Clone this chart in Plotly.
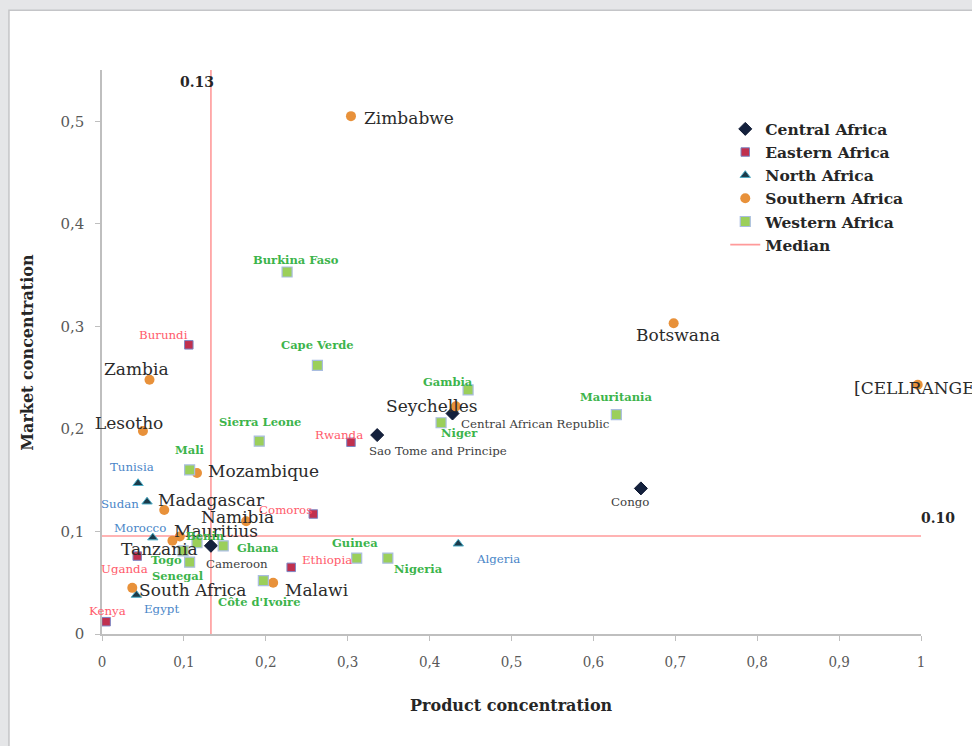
import plotly.graph_objects as go

# ---------------- data ----------------
central_names = ["Sao Tome and Principe", "Central African Republic", "Congo", "Cameroon"]
central_x = [0.336, 0.428, 0.658, 0.133]
central_y = [0.194, 0.215, 0.142, 0.086]

eastern_names = ["Kenya", "Uganda", "Burundi", "Rwanda", "Comoros", "Ethiopia"]
eastern_x = [0.005, 0.043, 0.106, 0.304, 0.258, 0.231]
eastern_y = [0.012, 0.076, 0.282, 0.187, 0.117, 0.065]

north_names = ["Tunisia", "Sudan", "Morocco", "Egypt", "Algeria"]
north_x = [0.044, 0.055, 0.062, 0.042, 0.435]
north_y = [0.147, 0.129, 0.094, 0.038, 0.088]

southern_names = ["Zimbabwe", "Botswana", "[CELLRANGE]", "Zambia", "Lesotho", "Mozambique",
                  "Madagascar", "Namibia", "Seychelles", "Mauritius", "Tanzania",
                  "South Africa", "Malawi"]
southern_x = [0.304, 0.698, 0.996, 0.058, 0.050, 0.116, 0.076, 0.176, 0.432, 0.095, 0.086, 0.037, 0.209]
southern_y = [0.505, 0.303, 0.243, 0.248, 0.198, 0.157, 0.121, 0.110, 0.222, 0.095, 0.091, 0.045, 0.050]

western_names = ["Burkina Faso", "Cape Verde", "Gambia", "Mauritania", "Sierra Leone", "Niger",
                 "Mali", "Guinea", "Nigeria", "Ghana", "Côte d'Ivoire", "Senegal", "Togo", "Benin"]
western_x = [0.226, 0.263, 0.447, 0.628, 0.192, 0.414, 0.107, 0.311, 0.349, 0.148, 0.197, 0.107, 0.099, 0.116]
western_y = [0.353, 0.262, 0.238, 0.214, 0.188, 0.206, 0.160, 0.074, 0.074, 0.086, 0.052, 0.070, 0.081, 0.089]

median_x = 0.133
median_y = 0.0955
median_x_label = "0.13"
median_y_label = "0.10"

x_tick_vals = [0, 0.1, 0.2, 0.3, 0.4, 0.5, 0.6, 0.7, 0.8, 0.9, 1]
x_tick_text = ["0", "0,1", "0,2", "0,3", "0,4", "0,5", "0,6", "0,7", "0,8", "0,9", "1"]
y_tick_vals = [0, 0.1, 0.2, 0.3, 0.4, 0.5]
y_tick_text = ["0", "0,1", "0,2", "0,3", "0,4", "0,5"]

# label offsets (pixels, right / down) relative to each point
label_offsets = {
    "Sao Tome and Principe": (61, 16), "Central African Republic": (83, 10),
    "Congo": (-11, 14), "Cameroon": (26, 18),
    "Kenya": (1, -11), "Uganda": (-13, 13), "Burundi": (-25, -10), "Rwanda": (-12, -7),
    "Comoros": (-28, -4), "Ethiopia": (36, -7),
    "Tunisia": (-6, -16), "Sudan": (-27, 2), "Morocco": (-13, -10), "Egypt": (25, 14),
    "Algeria": (40, 15),
    "Zimbabwe": (58, 2), "Botswana": (4, 12), "[CELLRANGE]": (0, 3), "Zambia": (-13, -11),
    "Lesotho": (-14, -8), "Mozambique": (66, -2), "Madagascar": (47, -10), "Namibia": (-9, -4),
    "Seychelles": (-24, 0), "Mauritius": (36, -6), "Tanzania": (-13, 8),
    "South Africa": (61, 2), "Malawi": (44, 7),
    "Burkina Faso": (9, -12), "Cape Verde": (0, -20), "Gambia": (-20, -8), "Mauritania": (0, -18),
    "Sierra Leone": (1, -19), "Niger": (18, 10), "Mali": (0, -20), "Guinea": (-2, -15),
    "Nigeria": (31, 11), "Ghana": (35, 2), "Côte d'Ivoire": (-4, 21), "Senegal": (-12, 14),
    "Togo": (-17, 9), "Benin": (8, -7),
}

SERIF = "DejaVu Serif, Liberation Serif, serif"

series = [
    dict(name="Central Africa", names=central_names, x=central_x, y=central_y,
         marker=dict(symbol="diamond", size=10, color="#14213d", line=dict(color="#0c1630", width=1)),
         label_font=dict(family=SERIF, size=11.8, color="#404040")),
    dict(name="Eastern Africa", names=eastern_names, x=eastern_x, y=eastern_y,
         marker=dict(symbol="square", size=8.5, color="#c0304e", line=dict(color="#7d86c4", width=1)),
         label_font=dict(family=SERIF, size=11.8, color="#ff5b6b")),
    dict(name="North Africa", names=north_names, x=north_x, y=north_y,
         marker=dict(symbol="triangle-up", size=9, color="#1b3a4a", line=dict(color="#4bacc6", width=1)),
         label_font=dict(family=SERIF, size=11.8, color="#4a86c8")),
    dict(name="Southern Africa", names=southern_names, x=southern_x, y=southern_y,
         marker=dict(symbol="circle", size=10, color="#e8913a", line=dict(color="#e8913a", width=0)),
         label_font=dict(family=SERIF, size=17, color="#2b2b2b")),
    dict(name="Western Africa", names=western_names, x=western_x, y=western_y,
         marker=dict(symbol="square", size=10, color="#9bcf5a", line=dict(color="#a9bde0", width=1.2)),
         label_font=dict(family=SERIF, size=11.5, color="#3cb44b"), bold=True),
]

fig = go.Figure()

# median lines
fig.add_trace(go.Scatter(
    x=[median_x, median_x, None, 0, 1],
    y=[0, 0.55, None, median_y, median_y],
    mode="lines", name="Median",
    line=dict(color="#ff9a9a", width=1.6),
    legendrank=1000, cliponaxis=False, hoverinfo="skip",
))

for i, s in enumerate(series):
    fig.add_trace(go.Scatter(
        x=s["x"], y=s["y"], mode="markers", name=s["name"], text=s["names"],
        marker=s["marker"], legendrank=i + 1, cliponaxis=False,
    ))

annotations = []
for s in series:
    for n, xv, yv in zip(s["names"], s["x"], s["y"]):
        dx, dy = label_offsets[n]
        txt = f"<b>{n}</b>" if s.get("bold") else n
        annotations.append(dict(
            x=xv, y=yv, xref="x", yref="y", text=txt, showarrow=False,
            xshift=dx, yshift=-dy, xanchor="center", yanchor="middle",
            font=s["label_font"],
        ))

# median value labels
annotations.append(dict(x=median_x, y=0.55, xref="x", yref="y", text=f"<b>{median_x_label}</b>",
                        showarrow=False, xshift=-14, yshift=-12, font=dict(family=SERIF, size=14, color="#262626")))
annotations.append(dict(x=1, y=median_y, xref="x", yref="y", text=f"<b>{median_y_label}</b>",
                        showarrow=False, xshift=17, yshift=18, font=dict(family=SERIF, size=14, color="#262626")))

# axis titles
annotations.append(dict(x=0.5, y=-0.126, xref="paper", yref="paper", text="<b>Product concentration</b>",
                        showarrow=False, yanchor="middle",
                        font=dict(family=SERIF, size=16, color="#262626")))
annotations.append(dict(x=-0.092, y=0.5, xref="paper", yref="paper", text="<b>Market concentration</b>",
                        showarrow=False, textangle=-90, xanchor="center",
                        font=dict(family=SERIF, size=16, color="#262626")))

fig.update_layout(
    width=972, height=746,
    margin=dict(l=102, r=51, t=70, b=112),
    paper_bgcolor="#e5e6e8",
    plot_bgcolor="rgba(0,0,0,0)",
    showlegend=True,
    legend=dict(x=0.761, y=0.925, xanchor="left", yanchor="top",
                bgcolor="rgba(0,0,0,0)", tracegroupgap=0,
                font=dict(family=SERIF, size=15.5, color="#262626"),
                itemsizing="trace"),
    annotations=annotations,
    shapes=[dict(type="rect", xref="paper", yref="paper", x0=-0.1136, x1=1.1, y0=-0.25, y1=1.106,
                 fillcolor="white", line=dict(color="#c4c5c8", width=1.5), layer="below")],
    xaxis=dict(range=[0, 1], tickvals=x_tick_vals, ticktext=x_tick_text, showgrid=False, zeroline=False,
               showline=True, linecolor="#bfbfbf", linewidth=1.5, ticks="outside", ticklen=5,
               tickcolor="#bfbfbf", ticklabelstandoff=8,
               tickfont=dict(family="DejaVu Serif Condensed, Liberation Serif, serif", size=15, color="#595959")),
    yaxis=dict(range=[0, 0.55], tickvals=y_tick_vals, ticktext=y_tick_text, showgrid=False, zeroline=False,
               showline=True, linecolor="#bfbfbf", linewidth=1.5, ticks="outside", ticklen=5,
               tickcolor="#bfbfbf", ticklabelstandoff=8,
               tickfont=dict(family=SERIF, size=15, color="#595959")),
)

# make legend bold text
for tr in fig.data:
    tr.name = f"<b>{tr.name}</b>"

fig.write_html(
    "out.html",
    config={"displayModeBar": False},
    post_script="document.body.style.margin='0';document.body.style.background='#e5e6e8';",
)
